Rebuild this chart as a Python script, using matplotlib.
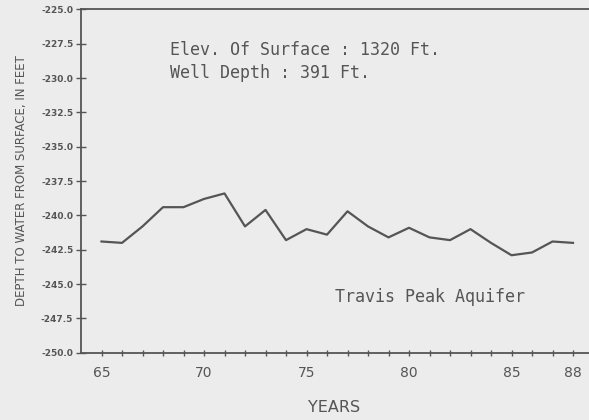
import matplotlib.pyplot as plt

years = list(range(65, 89))
depth = [-241.9, -242.0, -240.8, -239.4, -239.4, -238.8, -238.4, -240.8, -239.6,
         -241.8, -241.0, -241.4, -239.7, -240.8, -241.6, -240.9, -241.6, -241.8,
         -241.0, -242.0, -242.9, -242.7, -241.9, -242.0]
yticks = [-225.0, -227.5, -230.0, -232.5, -235.0, -237.5, -240.0, -242.5,
          -245.0, -247.5, -250.0]
xlabels = [65, 70, 75, 80, 85, 88]

bg = '#ececec'
ink = '#555555'
mono = 'DejaVu Sans Mono'

fig = plt.figure(figsize=(5.89, 4.2), dpi=100, facecolor=bg)
ax = fig.add_axes([81 / 589, 1 - 352.7 / 420, 512.5 / 589, (352.7 - 9.5) / 420])
ax.set_facecolor(bg)

ax.plot(years, depth, color=ink, lw=1.6)

ax.set_xlim(64, 89)
ax.set_ylim(-250, -225)

ax.set_yticks(yticks)
ax.set_yticklabels(['%.1f' % v for v in yticks], fontsize=6.5, fontweight='bold', color=ink)
ax.set_xticks(years)
ax.set_xticklabels([str(y) if y in xlabels else '' for y in years], fontsize=10, color=ink)
ax.tick_params(axis='y', direction='inout', length=7, width=1, color=ink, pad=2)
ax.tick_params(axis='x', direction='inout', length=5, width=1, color=ink, pad=7)

for s in ['left', 'bottom', 'top']:
    ax.spines[s].set_color(ink)
    ax.spines[s].set_linewidth(1.3)
ax.spines['right'].set_visible(False)

ax.text(0.174, 0.882, 'Elev. Of Surface : 1320 Ft.', transform=ax.transAxes,
        fontsize=12, family=mono, color=ink, va='center')
ax.text(0.174, 0.815, 'Well Depth : 391 Ft.', transform=ax.transAxes,
        fontsize=12, family=mono, color=ink, va='center')
ax.text(0.496, 0.162, 'Travis Peak Aquifer', transform=ax.transAxes,
        fontsize=12, family=mono, color=ink, va='center')

fig.text(334 / 589, 1 - 408 / 420, 'YEARS', fontsize=11.5, color=ink, ha='center', va='center')
fig.text(22 / 589, 1 - 181 / 420, 'DEPTH TO WATER FROM SURFACE, IN FEET', fontsize=8.5,
         color=ink, ha='center', va='center', rotation=90)

fig.savefig('out.png', dpi=100, facecolor=bg)
